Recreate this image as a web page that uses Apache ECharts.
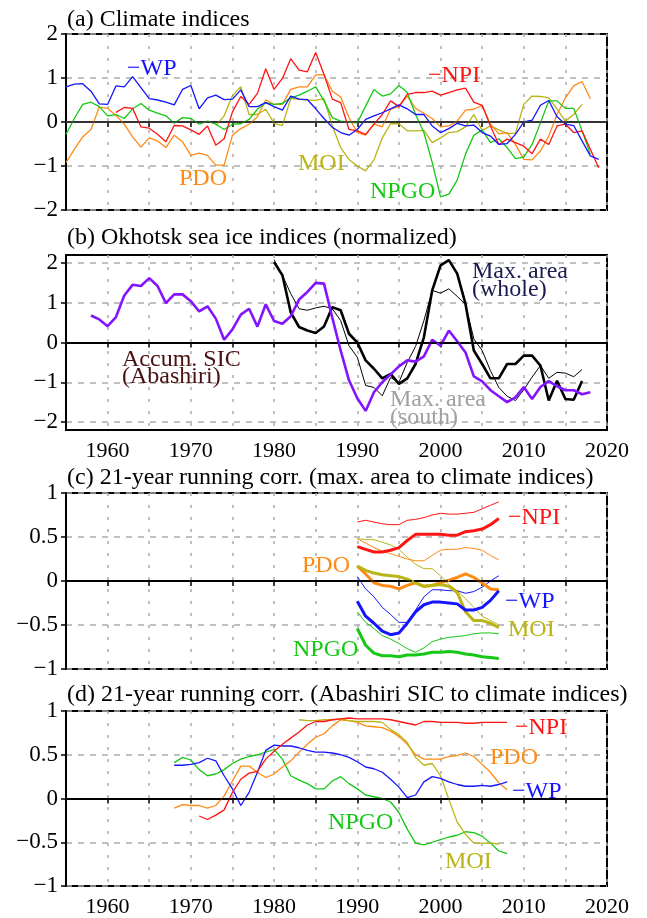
<!DOCTYPE html>
<html>
<head>
<meta charset="utf-8">
<script src="https://cdn.jsdelivr.net/npm/echarts@6.0.0/dist/echarts.min.js"></script>
<style>
  html, body { margin: 0; padding: 0; background: #fff; }
  #chart { width: 647px; height: 918px; }
</style>
</head>
<body>
<div id="chart"></div>
<script>
// ---- (a) climate indices, annual values ----
const wpA_start = 1955
const wpA = [0.80, 0.86, 0.87, 0.70, 0.41, 0.40, 0.82, 0.80, 1.03, 0.78,
  0.53, 0.50, 0.45, 0.39, 0.74, 0.83, 0.30, 0.55, 0.61, 0.51,
  0.52, 0.73, 0.35, 0.35, 0.44, 0.35, 0.27, 0.59, 0.52, 0.51,
  0.30, 0.08, -0.12, -0.24, -0.30, -0.17, 0.06, 0.14, 0.21, 0.30,
  0.39, 0.30, 0.17, 0.17, -0.09, -0.24, -0.15, -0.03, -0.09, -0.07,
  -0.24, -0.32, -0.51, -0.49, -0.28, 0.00, 0.04, 0.38, 0.49, 0.12,
  -0.05, -0.08, -0.43, -0.77, -0.85]
const npiA_start = 1961
const npiA = [0.22, 0.33, 0.31, -0.11, -0.14, -0.28, -0.45, -0.08, -0.09, -0.18,
  -0.28, -0.09, -0.53, -0.38, 0.23, 0.58, 0.40, 0.65, 1.21, 0.74,
  0.99, 1.44, 1.18, 1.14, 1.58, 1.08, 0.52, 0.44, -0.17, -0.20,
  -0.28, -0.05, 0.17, 0.48, 0.35, 0.63, 0.67, 0.67, 0.70, 0.61,
  0.67, 0.73, 0.77, 0.45, 0.38, -0.09, -0.51, -0.39, -0.47, -0.55,
  -0.72, -0.39, -0.51, -0.09, -0.05, -0.24, -0.20, -0.62, -1.04]
const pdoA_start = 1955
const pdoA = [-0.92, -0.62, -0.34, -0.17, 0.34, 0.31, 0.15, -0.05, -0.34, -0.57,
  -0.36, -0.43, -0.58, -0.30, -0.45, -0.76, -0.71, -0.76, -0.98, -0.98,
  -0.30, -0.15, -0.05, 0.12, 0.50, 0.40, 0.40, 0.74, 0.80, 0.80,
  1.07, 1.07, 0.70, 0.57, 0.10, -0.24, -0.30, -0.05, -0.11, 0.29,
  0.35, 0.59, 0.31, 0.20, 0.08, -0.11, -0.09, 0.02, 0.27, 0.29,
  0.38, -0.05, -0.27, -0.24, -0.51, -0.85, -0.86, -0.66, -0.32, 0.17,
  0.55, 0.82, 0.92, 0.53]
const npgoA_start = 1955
const npgoA = [-0.28, 0.08, 0.40, 0.45, 0.35, 0.14, 0.17, 0.08, 0.30, 0.42,
  0.27, 0.20, 0.14, -0.03, 0.10, 0.08, -0.05, 0.02, -0.05, -0.17,
  -0.05, -0.04, 0.06, 0.29, 0.44, 0.40, 0.42, 0.55, 0.61, 0.70,
  0.80, 0.48, 0.10, 0.02, 0.00, -0.02, 0.36, 0.74, 0.59, 0.64,
  0.83, 0.67, 0.17, -0.24, -0.92, -1.70, -1.64, -1.32, -0.73, -0.30,
  -0.18, -0.47, -0.38, -0.58, -0.83, -0.80, -0.51, -0.02, 0.48, 0.48,
  0.31, 0.31, -0.20, -0.73]
const moiA_start = 1973
const moiA = [-0.08, 0.14, 0.60, 0.80, 0.17, 0.17, 0.29, -0.03, -0.08, 0.53,
  0.52, 0.50, 0.49, 0.53, -0.09, -0.58, -0.85, -1.00, -1.11, -0.86,
  -0.36, -0.04, -0.04, -0.20, -0.20, -0.19, -0.47, -0.36, -0.24, -0.22,
  -0.11, 0.17, -0.19, -0.09, -0.18, -0.26, -0.26, 0.40, 0.59, 0.58,
  0.55, 0.29, 0.02, 0.17, 0.40]

// ---- (b) Okhotsk sea ice indices ----
const sicB_start = 1958
const sicB = [0.68, 0.58, 0.41, 0.64, 1.18, 1.45, 1.42, 1.62, 1.42, 0.99,
  1.21, 1.21, 1.04, 0.78, 0.91, 0.60, 0.07, 0.33, 0.70, 0.85,
  0.40, 0.96, 0.54, 0.47, 0.66, 1.08, 1.27, 1.50, 1.48, 0.62,
  -0.20, -0.95, -1.40, -1.72, -1.25, -1.00, -0.80, -0.60, -0.45, -0.48,
  -0.35, 0.07, -0.08, 0.30, 0.03, -0.25, -0.85, -0.98, -1.20, -1.35,
  -1.50, -1.38, -1.12, -1.42, -1.12, -0.97, -1.10, -1.20, -1.20, -1.30,
  -1.25]
const wholeB_start = 1980
const wholeB = [2.02, 1.69, 0.76, 0.39, 0.30, 0.24, 0.40, 0.89, 0.81, 0.22,
  0.00, -0.45, -0.66, -0.90, -0.79, -1.04, -0.90, -0.54, 0.13, 1.31,
  1.94, 2.07, 1.73, 0.97, -0.20, -0.54, -0.90, -0.90, -0.54, -0.54,
  -0.33, -0.33, -0.58, -1.46, -0.96, -1.42, -1.44, -0.97]
const southB_start = 1980
const southB = [2.08, 1.69, 1.23, 0.85, 0.81, 0.87, 0.91, 0.85, 0.55, -0.08,
  -0.37, -1.08, -1.13, -1.34, -0.88, -1.00, -0.50, -0.10, 0.55, 1.31,
  1.24, 1.35, 1.16, 0.96, 0.09, -0.20, -0.71, -1.13, -1.35, -1.46,
  -1.19, -0.87, -0.58, -0.90, -0.75, -0.77, -0.86, -0.68]

// ---- (c) 21-year running corr., max. area (thick: whole, thin: south) ----
const corrC_start = 1990
const npiC_thin = [0.67, 0.69, 0.67, 0.65, 0.64, 0.64, 0.69, 0.70, 0.72, 0.75, 0.77, 0.76, 0.76, 0.77, 0.78, 0.82, 0.86, 0.90]
const npiC_thick = [0.39, 0.36, 0.33, 0.33, 0.35, 0.38, 0.46, 0.53, 0.53, 0.53, 0.53, 0.52, 0.52, 0.56, 0.57, 0.59, 0.64, 0.71]
const pdoC_thin = [0.48, 0.43, 0.38, 0.34, 0.31, 0.28, 0.25, 0.23, 0.23, 0.29, 0.35, 0.36, 0.36, 0.38, 0.37, 0.35, 0.29, 0.24]
const pdoC_thick = [0.17, 0.08, -0.02, -0.05, -0.06, -0.09, -0.05, -0.02, -0.06, -0.05, -0.02, 0.01, 0.04, 0.08, 0.04, -0.02, -0.09, -0.10]
const moiC_thin = [0.48, 0.47, 0.47, 0.44, 0.41, 0.36, 0.27, 0.19, 0.14, 0.14, 0.06, -0.04, -0.11, -0.20, -0.30, -0.40, -0.45, -0.50]
const moiC_thick = [0.17, 0.12, 0.09, 0.07, 0.06, 0.05, 0.02, -0.02, -0.06, -0.05, -0.04, -0.06, -0.13, -0.35, -0.45, -0.45, -0.48, -0.53]
const wpC_thin = [0.05, -0.09, -0.18, -0.30, -0.38, -0.47, -0.47, -0.33, -0.18, -0.10, -0.10, -0.11, -0.11, -0.14, -0.12, -0.07, 0.00, 0.06]
const wpC_thick = [-0.23, -0.40, -0.48, -0.57, -0.61, -0.59, -0.48, -0.35, -0.27, -0.24, -0.24, -0.25, -0.26, -0.33, -0.33, -0.30, -0.22, -0.11]
const npgoC_thin = [-0.35, -0.47, -0.54, -0.62, -0.66, -0.71, -0.77, -0.81, -0.76, -0.69, -0.66, -0.64, -0.63, -0.62, -0.60, -0.59, -0.59, -0.60]
const npgoC_thick = [-0.54, -0.73, -0.82, -0.85, -0.85, -0.86, -0.84, -0.84, -0.83, -0.81, -0.81, -0.80, -0.81, -0.83, -0.84, -0.86, -0.87, -0.88]

// ---- (d) 21-year running corr., Abashiri SIC ----
const wpD_start = 1968
const wpD = [0.38, 0.38, 0.39, 0.41, 0.46, 0.43, 0.26, 0.11, -0.08, 0.07,
  0.30, 0.55, 0.61, 0.60, 0.60, 0.58, 0.55, 0.53, 0.53, 0.52,
  0.50, 0.47, 0.42, 0.36, 0.34, 0.30, 0.22, 0.13, 0.01, 0.04,
  0.19, 0.25, 0.23, 0.19, 0.16, 0.14, 0.14, 0.15, 0.14, 0.16, 0.19]
const npiD_start = 1971
const npiD = [-0.20, -0.24, -0.19, -0.13, 0.07, 0.22, 0.29, 0.31, 0.45, 0.54,
  0.62, 0.69, 0.76, 0.84, 0.88, 0.88, 0.90, 0.91, 0.92, 0.91,
  0.91, 0.91, 0.91, 0.90, 0.88, 0.86, 0.84, 0.88, 0.88, 0.87,
  0.87, 0.87, 0.86, 0.86, 0.87, 0.87, 0.87, 0.87]
const pdoD_start = 1968
const pdoD = [-0.11, -0.07, -0.08, -0.08, -0.11, -0.08, 0.03, 0.20, 0.37, 0.37,
  0.30, 0.24, 0.28, 0.36, 0.43, 0.53, 0.62, 0.70, 0.74, 0.83,
  0.90, 0.89, 0.87, 0.83, 0.82, 0.81, 0.77, 0.71, 0.62, 0.50,
  0.45, 0.45, 0.45, 0.48, 0.49, 0.52, 0.48, 0.39, 0.30, 0.18, 0.10]
const moiD_start = 1983
const moiD = [0.90, 0.89, 0.89, 0.90, 0.90, 0.91, 0.89, 0.88, 0.88, 0.88,
  0.87, 0.79, 0.73, 0.64, 0.47, 0.38, 0.40, 0.26, -0.01, -0.27,
  -0.41, -0.51, -0.51, -0.51, -0.52]
const npgoD_start = 1968
const npgoD = [0.41, 0.47, 0.44, 0.33, 0.26, 0.28, 0.33, 0.40, 0.45, 0.48,
  0.50, 0.53, 0.56, 0.45, 0.26, 0.21, 0.17, 0.11, 0.11, 0.20,
  0.25, 0.17, 0.11, 0.04, 0.02, 0.00, -0.04, -0.16, -0.35, -0.51,
  -0.53, -0.50, -0.47, -0.44, -0.42, -0.38, -0.39, -0.43, -0.51, -0.60, -0.63]

// axis ticks
const yearMin = 1955, yearMax = 2020
const ticksB = [-2, -1, 0, 1, 2]

const FONT = '"Liberation Serif", "Times New Roman", serif'
const C = {
  blue: '#1414ff', red: '#ff1414', orange: '#ff8a14', green: '#14c814',
  olive: '#bab414', purple: '#8414ff', black: '#000'
}

const chart = echarts.init(document.getElementById('chart'))

function pairs(start, vals) {
  return vals.map((v, i) => [start + i, v])
}

function line(gi, start, vals, color, width) {
  return {
    type: 'line',
    xAxisIndex: gi,
    yAxisIndex: gi,
    data: pairs(start, vals),
    symbol: 'none',
    silent: true,
    z: 3,
    lineStyle: { color: color, width: width }
  }
}

function zeroLine(gi, style) {
  return {
    type: 'line',
    xAxisIndex: gi,
    yAxisIndex: gi,
    data: [],
    z: 2,
    markLine: {
      silent: true,
      symbol: 'none',
      label: { show: false },
      lineStyle: style,
      data: [{ yAxis: 0 }]
    }
  }
}

const minus = v => String(v).replace('-', '\u2212')

function xAxis(gi, showLabel) {
  return {
    type: 'value',
    gridIndex: gi,
    min: yearMin,
    max: yearMax,
    interval: 5,
    axisLine: { show: true, lineStyle: { color: '#000', width: 2 } },
    axisTick: { show: true, length: 5, lineStyle: { color: '#000', width: 1.5 } },
    axisLabel: {
      show: showLabel,
      fontFamily: FONT,
      fontSize: 22,
      color: '#000',
      margin: 10,
      formatter: v => (v % 10 === 0 ? String(v) : '')
    },
    splitLine: { show: true, lineStyle: { color: '#aaa', width: 1.5, type: [3, 9] } }
  }
}

function yAxis(gi, min, max, interval, custom) {
  const ax = {
    type: 'value',
    gridIndex: gi,
    min: min,
    max: max,
    axisLine: { show: true, lineStyle: { color: '#000', width: 2 } },
    axisTick: { show: true, length: 5, lineStyle: { color: '#000', width: 1.5 } },
    axisLabel: { fontFamily: FONT, fontSize: 23, color: '#000', margin: 8, formatter: minus },
    splitLine: { show: true, lineStyle: { color: '#aaa', width: 1.5, type: [6, 6] } }
  }
  if (custom) {
    ax.axisTick.customValues = custom
    ax.axisLabel.customValues = custom
  } else {
    ax.interval = interval
  }
  return ax
}

function txt(text, x, y, color, size, lh) {
  return {
    type: 'text',
    x: x,
    y: y,
    silent: true,
    z: 10,
    style: {
      text: text,
      fill: color,
      font: size + 'px ' + FONT,
      verticalAlign: 'middle',
      align: 'left',
      lineHeight: lh || size
    }
  }
}

const gridBase = { left: 66, right: 40, height: 176, show: true, borderColor: '#000', borderWidth: 2 }

const option = {
  animation: false,
  backgroundColor: '#fff',
  grid: [
    Object.assign({ top: 34 }, gridBase),
    Object.assign({}, gridBase, { top: 255, height: 175 }),
    Object.assign({ top: 493 }, gridBase),
    Object.assign({ top: 711 }, gridBase)
  ],
  xAxis: [xAxis(0, false), xAxis(1, true), xAxis(2, false), xAxis(3, true)],
  yAxis: [
    yAxis(0, -2, 2, 1),
    yAxis(1, -2.2, 2.2, null, ticksB),
    yAxis(2, -1, 1, 0.5),
    yAxis(3, -1, 1, 0.5)
  ],
  series: [
    zeroLine(0, { color: '#444', width: 1.5, type: 'solid' }),
    line(0, moiA_start, moiA, C.olive, 1.3),
    line(0, pdoA_start, pdoA, C.orange, 1.3),
    line(0, npgoA_start, npgoA, C.green, 1.3),
    line(0, npiA_start, npiA, C.red, 1.3),
    line(0, wpA_start, wpA, C.blue, 1.3),

    zeroLine(1, { color: '#000', width: 1.5, type: [8, 3] }),
    line(1, southB_start, southB, C.black, 1),
    line(1, wholeB_start, wholeB, C.black, 2.6),
    line(1, sicB_start, sicB, C.purple, 2.6),

    zeroLine(2, { color: '#000', width: 1.5, type: [10, 2] }),
    line(2, corrC_start, npiC_thin, C.red, 1),
    line(2, corrC_start, pdoC_thin, C.orange, 1),
    line(2, corrC_start, moiC_thin, C.olive, 1),
    line(2, corrC_start, wpC_thin, C.blue, 1),
    line(2, corrC_start, npgoC_thin, C.green, 1),
    line(2, corrC_start, npiC_thick, C.red, 3),
    line(2, corrC_start, pdoC_thick, C.orange, 3),
    line(2, corrC_start, moiC_thick, C.olive, 3),
    line(2, corrC_start, wpC_thick, C.blue, 3),
    line(2, corrC_start, npgoC_thick, C.green, 3),

    zeroLine(3, { color: '#000', width: 1.5, type: 'solid' }),
    line(3, npgoD_start, npgoD, C.green, 1.3),
    line(3, pdoD_start, pdoD, C.orange, 1.3),
    line(3, moiD_start, moiD, C.olive, 1.3),
    line(3, wpD_start, wpD, C.blue, 1.3),
    line(3, npiD_start, npiD, C.red, 1.3)
  ],
  graphic: [
    txt('(a) Climate indices', 67, 20, '#000', 24),
    txt('(b) Okhotsk sea ice indices (normalized)', 67, 238, '#000', 24),
    txt('(c) 21-year running corr. (max. area to climate indices)', 67, 478, '#000', 24),
    txt('(d) 21-year running corr. (Abashiri SIC to climate indices)', 67, 695, '#000', 24),

    txt('\u2212WP', 127, 69, C.blue, 24),
    txt('PDO', 179, 179, C.orange, 24),
    txt('MOI', 298, 164, C.olive, 24),
    txt('\u2212NPI', 428, 76, C.red, 24),
    txt('NPGO', 370, 192, C.green, 24),

    txt('Accum. SIC\n(Abashiri)', 122, 368, '#4a1010', 24, 17),
    txt('Max. area\n(whole)', 472, 281, '#1c1c50', 24, 18),
    txt('Max. area\n(south)', 390, 409, '#a0a0a0', 24, 18),

    txt('\u2212NPI', 508, 518, C.red, 24),
    txt('PDO', 302, 566, C.orange, 24),
    txt('\u2212WP', 505, 602, C.blue, 24),
    txt('MOI', 508, 630, C.olive, 24),
    txt('NPGO', 293, 650, C.green, 24),

    txt('\u2212NPI', 515, 728, C.red, 24),
    txt('PDO', 490, 758, C.orange, 24),
    txt('\u2212WP', 512, 792, C.blue, 24),
    txt('NPGO', 328, 823, C.green, 24),
    txt('MOI', 445, 862, C.olive, 24)
  ]
}

chart.setOption(option)
</script>
</body>
</html>
